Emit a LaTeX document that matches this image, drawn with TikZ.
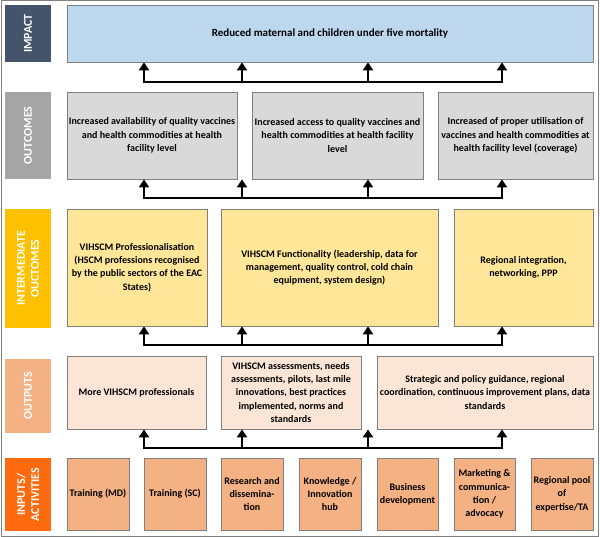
\documentclass[tikz,border=0pt]{standalone}
\usepackage{fontspec}
\setmainfont{Carlito}
\usetikzlibrary{arrows.meta}
\definecolor{cImpLab}{HTML}{44546A}
\definecolor{cOcLab}{HTML}{A5A5A5}
\definecolor{cIoLab}{HTML}{FFC000}
\definecolor{cOpLab}{HTML}{F4B183}
\definecolor{cInLab}{HTML}{FF6A0E}
\definecolor{cImp}{HTML}{BDD7EE}
\definecolor{cOc}{HTML}{D9D9D9}
\definecolor{cIo}{HTML}{FFE699}
\definecolor{cOp}{HTML}{FBE5D6}
\definecolor{cIn}{HTML}{F4B183}
\definecolor{cBorder}{HTML}{7F7F7F}
\newcommand\bx[7]{\node[#6, minimum width={(#4-#2)*1pt}, minimum height={(#5-#3)*1pt}] (#1) at ({(#2+#4)/2},{(#3+#5)/2}) {#7};}
\tikzset{
  box/.style={draw=cBorder, line width=0.8pt, align=center, inner sep=0pt,
    font=\bfseries\fontsize{10}{13.3}\selectfont},
  lab/.style={rotate=90, inner sep=0pt, align=center, text=white,
    font=\bfseries\fontsize{12}{14}\selectfont},
  bar/.style={line width=2.8pt, line cap=rect},
  arr/.style={line width=2.8pt, -{Triangle[width=10pt,length=8pt]}}
}
\begin{document}
\begin{tikzpicture}[x=1pt,y=-1pt]
\useasboundingbox (0,0) rectangle (600,537);
\draw[cBorder, line width=1pt] (1,1) rectangle (598,536);
% left labels
\node[lab, fill=cImpLab, minimum width=57pt, minimum height=46pt] (Limp) at (28,33.5) {IMPACT};
\node[lab, fill=cOcLab, minimum width=87pt, minimum height=46pt] (Loc) at (28,135.5) {OUTCOMES};
\node[lab, fill=cIoLab, minimum width=119pt, minimum height=46pt] (Lio) at (28,268.5) {INTERMEDIATE\\OUCTOMES};
\node[lab, fill=cOpLab, minimum width=74pt, minimum height=46pt] (Lop) at (28,396) {OUTPUTS};
\node[lab, fill=cInLab, minimum width=73pt, minimum height=46pt] (Lin) at (28,494.5) {INPUTS/\\ACTIVITIES};
% impact
\bx{imp}{67}{5}{593}{62}{box, fill=cImp, font=\bfseries\fontsize{11}{13.3}\selectfont}{Reduced maternal and children under five mortality}
% outcomes
\bx{oc1}{67}{92}{237}{179}{box, fill=cOc}{Increased availability of quality vaccines\\and health commodities at health\\facility level}
\bx{oc2}{252}{92}{423}{179}{box, fill=cOc}{Increased access to quality vaccines and\\health commodities at health facility\\level}
\bx{oc3}{438}{92}{593}{179}{box, fill=cOc}{Increased of proper utilisation of\\vaccines and health commodities at\\health facility level (coverage)}
% intermediate outcomes
\bx{io1}{67}{209}{207}{326}{box, fill=cIo}{VIHSCM Professionalisation\\(HSCM professions recognised\\by the public sectors of the EAC\\States)}
\bx{io2}{221}{209}{438}{326}{box, fill=cIo}{VIHSCM Functionality (leadership, data for\\management, quality control, cold chain\\equipment, system design)}
\bx{io3}{454}{209}{593}{326}{box, fill=cIo}{Regional integration,\\networking, PPP}
% outputs
\bx{op1}{67}{356}{206}{429}{box, fill=cOp}{More VIHSCM professionals}
\bx{op2}{221}{356}{361}{429}{box, fill=cOp}{VIHSCM assessments, needs\\assessments, pilots, last mile\\innovations, best practices\\implemented, norms and\\standards}
\bx{op3}{377}{356}{593}{429}{box, fill=cOp}{Strategic and policy guidance, regional\\coordination, continuous improvement plans, data\\standards}
% inputs
\bx{in1}{67}{458}{129}{530}{box, fill=cIn}{Training (MD)}
\bx{in2}{144}{458}{206}{530}{box, fill=cIn}{Training (SC)}
\bx{in3}{221}{458}{283}{530}{box, fill=cIn}{Research and\\dissemina-\\tion}
\bx{in4}{299}{458}{361}{530}{box, fill=cIn}{Knowledge /\\Innovation\\hub}
\bx{in5}{377}{458}{438}{530}{box, fill=cIn}{Business\\development}
\bx{in6}{454}{458}{515}{530}{box, fill=cIn}{Marketing \&\\communica-\\tion /\\advocacy}
\bx{in7}{531}{458}{593}{530}{box, fill=cIn}{Regional pool\\of\\expertise/TA}
% bars and arrows
\foreach \r/\yy in {a/82, b/198, c/345, d/448}{
  \coordinate (\r1) at (144,\yy);
  \coordinate (\r2) at (242,\yy);
  \coordinate (\r3) at (368,\yy);
  \coordinate (\r4) at (502,\yy);
  \draw[bar] (\r1) -- (\r4);
}
\foreach \i in {1,2,3,4}{ \draw[arr] (a\i) -- (a\i |- imp.south); }
\draw[arr] (b1) -- (b1 |- oc1.south);
\draw[arr] (b2) -- (b2 |- oc1.south);
\draw[arr] (b3) -- (b3 |- oc2.south);
\draw[arr] (b4) -- (b4 |- oc3.south);
\draw[arr] (c1) -- (c1 |- io1.south);
\draw[arr] (c2) -- (c2 |- io2.south);
\draw[arr] (c3) -- (c3 |- io2.south);
\draw[arr] (c4) -- (c4 |- io3.south);
\draw[arr] (d1) -- (d1 |- op1.south);
\draw[arr] (d2) -- (d2 |- op2.south);
\draw[arr] (d3) -- (d3 |- op2.south);
\draw[arr] (d4) -- (d4 |- op3.south);
\end{tikzpicture}
\end{document}
